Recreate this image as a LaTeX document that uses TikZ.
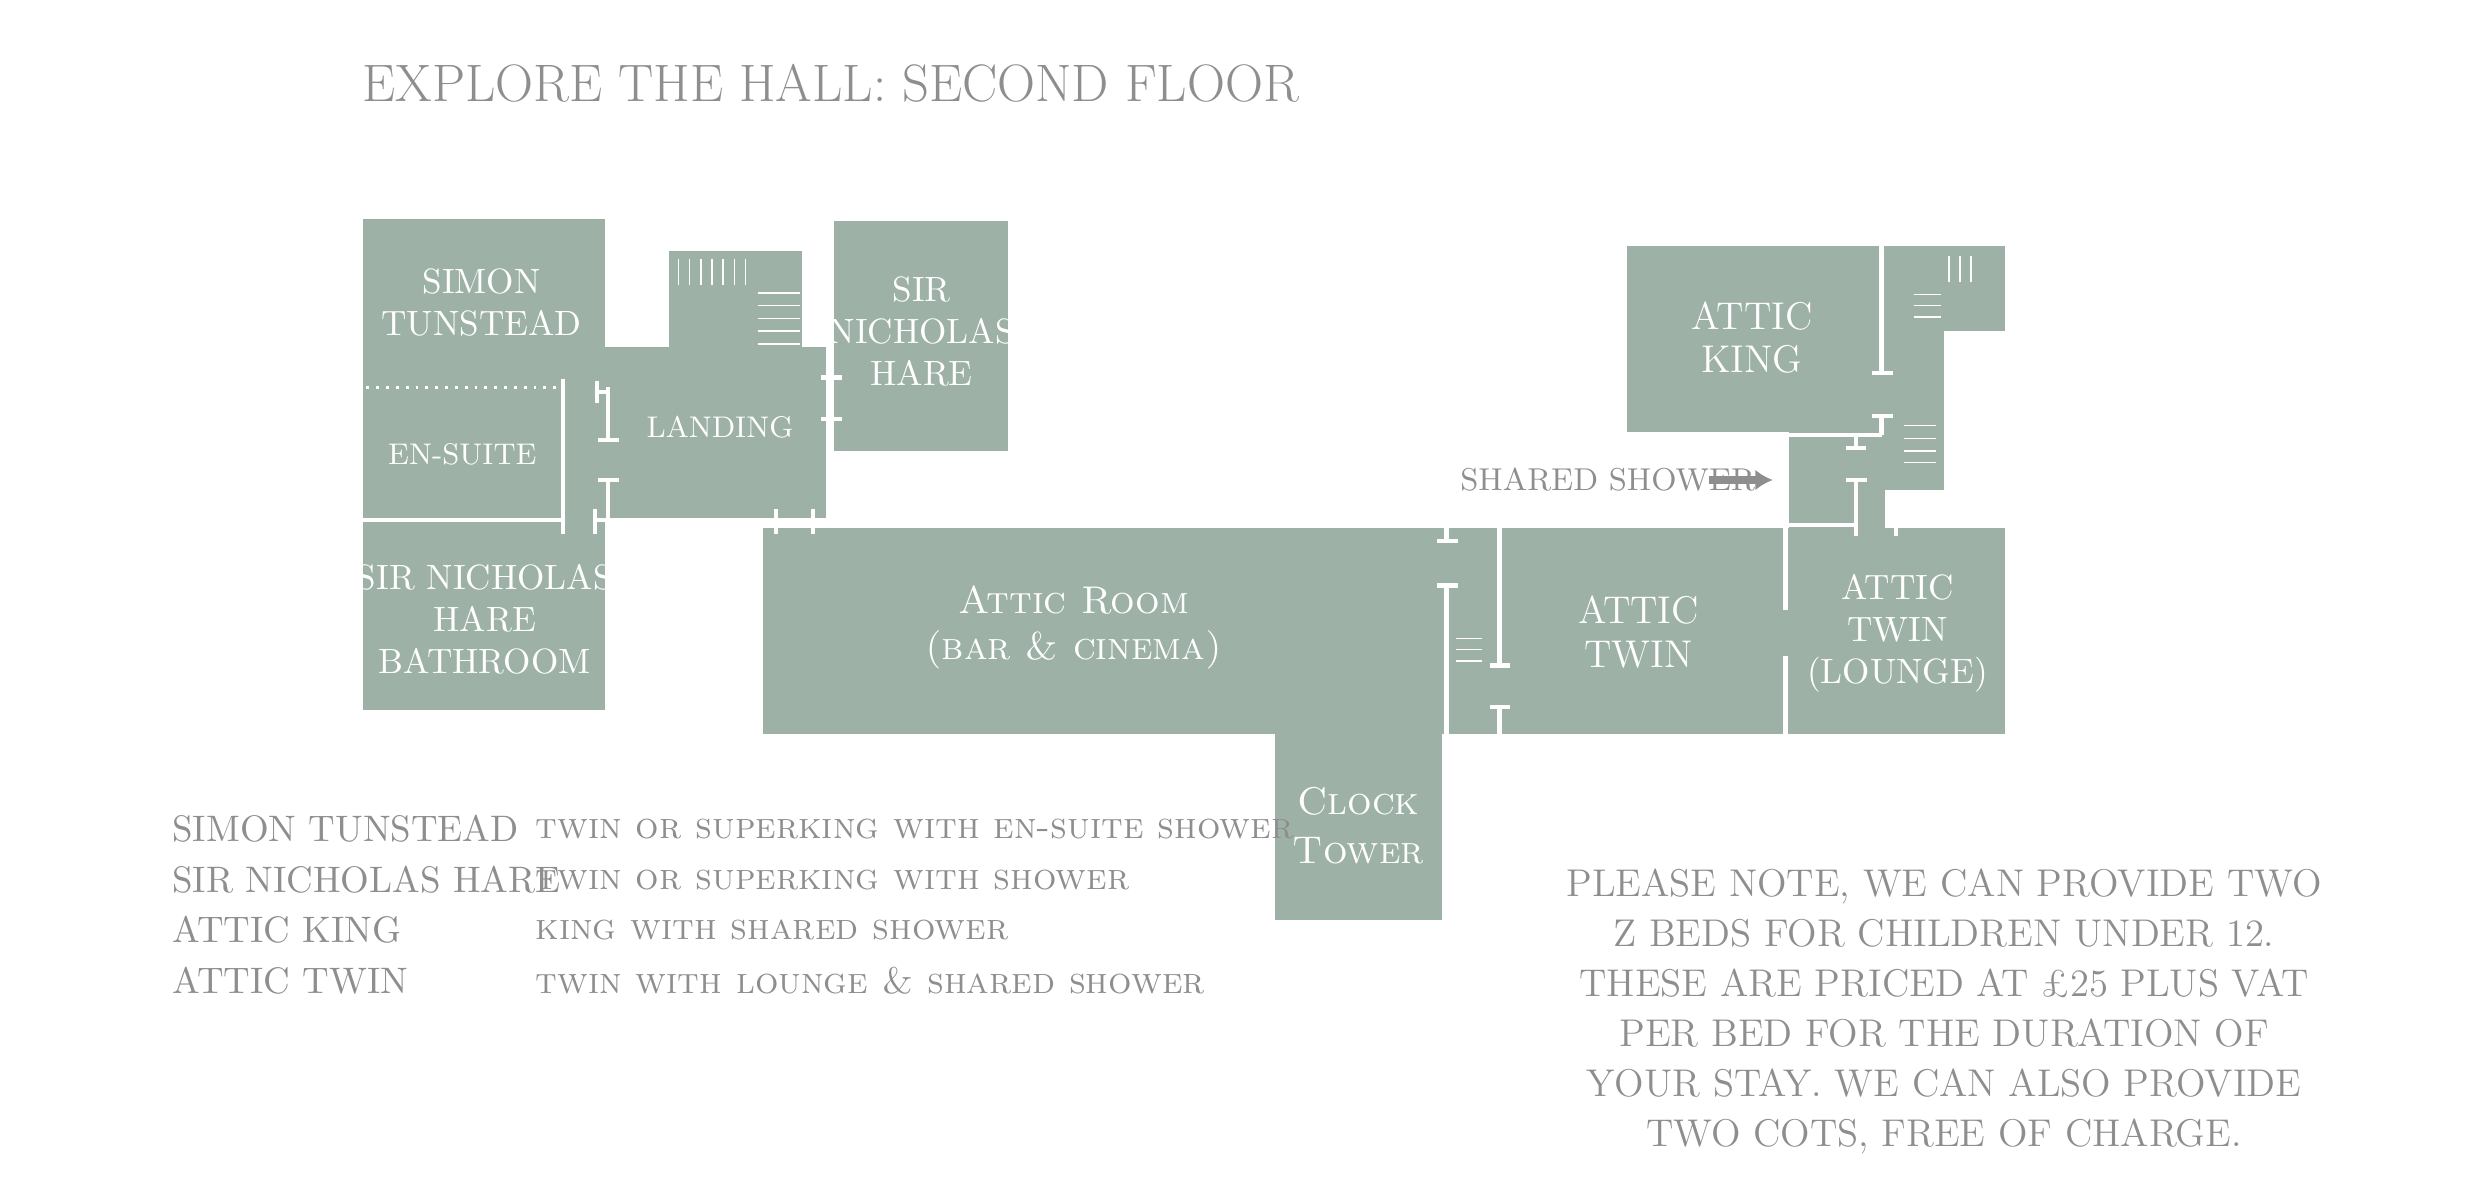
\documentclass[tikz,border=0pt]{standalone}
\usepackage{tikz}
\usetikzlibrary{positioning,arrows.meta}
\definecolor{roomgreen}{HTML}{9DB1A6}
\definecolor{textgrey}{HTML}{8E8E8E}
\tikzset{
  room/.style={fill=roomgreen,draw=none},
  wall/.style={draw=white,line width=1.3pt},
  stair/.style={draw=white,line width=0.5pt},
  roomlabel/.style={text=white,font=\fontsize{10}{12}\selectfont,align=center},
  legend/.style={text=textgrey,font=\fontsize{10.5}{12}\selectfont,anchor=west},
  note/.style={text=textgrey,font=\fontsize{11}{14.2}\selectfont,align=center}
}
\begin{document}
\begin{tikzpicture}[x=0.016cm,y=-0.016cm]
\useasboundingbox (0,0) rectangle (1550,752);

% Title
\node[text=textgrey,font=\fontsize{15}{18}\selectfont,anchor=west] (title) at (219,52) {EXPLORE THE HALL: SECOND FLOOR};

% Rooms, west wing
\fill[room] (227,137) rectangle (378,444);
\fill[room] (376,217) rectangle (516,324);
\fill[room] (418,157) rectangle (501,217);
\fill[room] (521,138) rectangle (630,282);
\fill[room] (477,330) rectangle (1253,459);
\fill[room] (797,459) rectangle (901,575);

% Rooms, east wing
\fill[room] (1017,154) rectangle (1253,207);
\fill[room] (1017,207) rectangle (1215,270);
\fill[room] (1118,270) rectangle (1215,306);
\fill[room] (1118,306) rectangle (1178,330);

% Walls and doors, west
\draw[white,line width=0.8pt,dotted] (229,242) -- (350,242);
\draw[wall] (227,325) -- (352,325) (352,237) -- (352,334);
\draw[wall] (380,242) -- (380,275) (374,275) -- (387,275);
\draw[wall] (373,238) -- (373,252) (373,245) -- (380,245);
\draw[wall] (380,300) -- (380,325) (374,300) -- (387,300);
\draw[wall] (372,318) -- (372,334) (372,325) -- (378,325);
\draw[wall] (485,318) -- (485,334) (477,325) -- (485,325);
\draw[wall] (508,318) -- (508,334) (508,325) -- (516,325);
\draw[wall] (519,217) -- (519,236) (513,236) -- (526,236);
\draw[wall] (519,262) -- (519,282) (513,262) -- (526,262);
\foreach \x in {424,431,...,466} \draw[stair] (\x,162) -- (\x,178);
\foreach \y in {183,191,...,215} \draw[stair] (474,\y) -- (500,\y);

% Walls and doors, east
\draw[wall] (904,330) -- (904,338) (898,338) -- (911,338);
\draw[wall] (904,366) -- (904,459) (898,366) -- (911,366);
\draw[wall] (937,330) -- (937,416) (931,416) -- (944,416);
\draw[wall] (937,442) -- (937,470) (931,442) -- (944,442);
\foreach \y in {399,406,413} \draw[stair] (910,\y) -- (926,\y);
\draw[wall] (1116,330) -- (1116,381) (1116,410) -- (1116,459);
\draw[wall] (1176,154) -- (1176,233) (1170,233) -- (1183,233);
\draw[wall] (1170,260) -- (1183,260) (1176,260) -- (1176,272) (1118,272) -- (1176,272);
\draw[wall] (1160,272) -- (1160,280) (1154,280) -- (1166,280);
\draw[wall] (1160,300) -- (1160,335) (1154,300) -- (1167,300);
\draw[wall] (1118,328) -- (1160,328);
\draw[wall] (1185,306) -- (1185,335);
\foreach \x in {1218,1225,1232} \draw[stair] (\x,160) -- (\x,176);
\foreach \y in {184,191,198} \draw[stair] (1196,\y) -- (1213,\y);
\foreach \y in {266,274,282,289} \draw[stair] (1190,\y) -- (1210,\y);

% Room labels
\node[roomlabel] (simon) at (301,189) {SIMON\\TUNSTEAD};
\node[roomlabel,font=\fontsize{8.5}{10}\selectfont] (ensuite) at (289,284) {EN-SUITE};
\node[roomlabel] (nichbath) at (303,387) {SIR NICHOLAS\\HARE\\BATHROOM};
\node[roomlabel,font=\fontsize{8.5}{10}\selectfont] (landing) at (450,267) {LANDING};
\node[roomlabel] (nicholas) at (576,207) {SIR\\NICHOLAS\\HARE};
\node[roomlabel,font=\fontsize{11}{13}\selectfont] (atticroom) at (671,392) {\textsc{Attic Room}\\\textsc{(bar \& cinema)}};
\node[roomlabel,font=\fontsize{11}{14}\selectfont] (clock) at (849,516) {\textsc{Clock}\\\textsc{Tower}};
\node[roomlabel,font=\fontsize{11}{12.5}\selectfont] (attictwin) at (1024,395) {ATTIC\\TWIN};
\node[roomlabel] (lounge) at (1186,396) {ATTIC\\TWIN\\(LOUNGE)};
\node[roomlabel,font=\fontsize{11}{12.5}\selectfont] (attking) at (1095,211) {ATTIC\\KING};

% Shared shower pointer
\node[text=textgrey,font=\fontsize{9}{10}\selectfont,anchor=west] (shower) at (905,300) {SHARED SHOWER};
\coordinate (showerroom) at (1108,300);
\draw[textgrey,line width=2pt,-{Latex[length=5pt,width=6pt]}] (1068,300) -- (showerroom);

% Legend
\node[legend] (n1) at (100,518) {SIMON TUNSTEAD};
\node[legend] (n2) at (100,550) {SIR NICHOLAS HARE};
\node[legend] (n3) at (100,581) {ATTIC KING};
\node[legend] (n4) at (100,613) {ATTIC TWIN};
\node[legend] (d1) at (327,518) {\textsc{twin or superking with en-suite shower}};
\node[legend] (d2) at (327,550) {\textsc{twin or superking with shower}};
\node[legend] (d3) at (327,581) {\textsc{king with shared shower}};
\node[legend] (d4) at (327,613) {\textsc{twin with lounge \& shared shower}};

% Note
\node[note] (note) at (1215,632) {PLEASE NOTE, WE CAN PROVIDE TWO\\Z BEDS FOR CHILDREN UNDER 12.\\THESE ARE PRICED AT \pounds25 PLUS VAT\\PER BED FOR THE DURATION OF\\YOUR STAY. WE CAN ALSO PROVIDE\\TWO COTS, FREE OF CHARGE.};
\end{tikzpicture}
\end{document}
